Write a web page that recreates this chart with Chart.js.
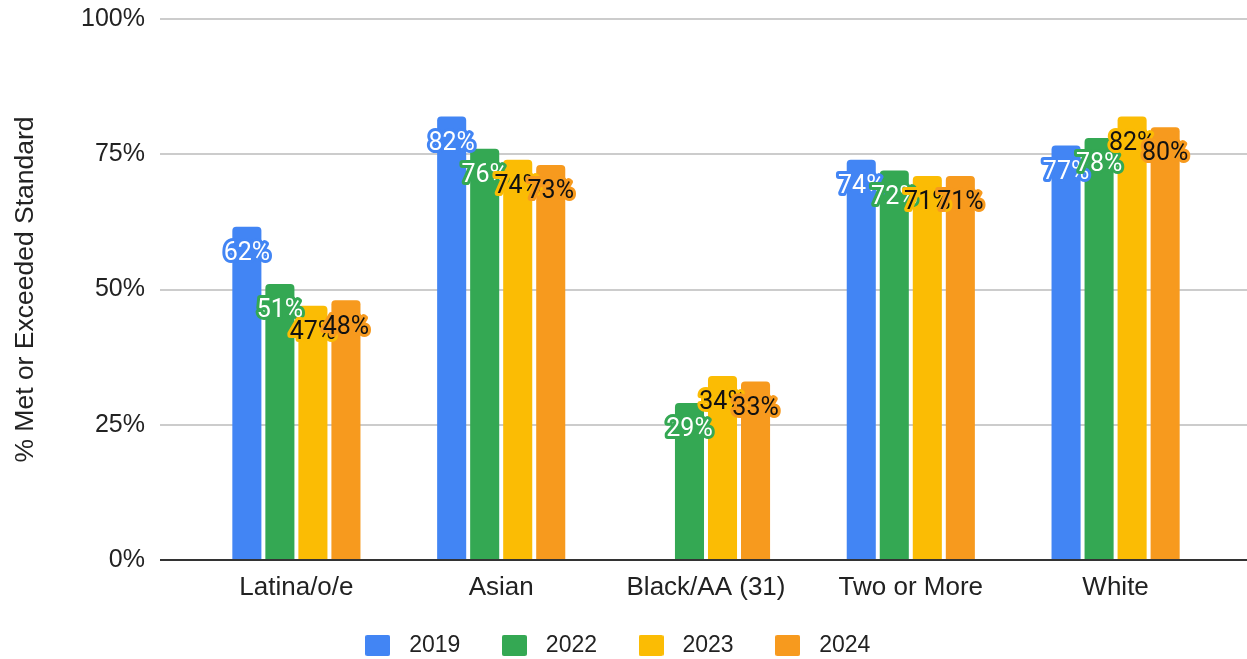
<!DOCTYPE html>
<html>
<head>
<meta charset="utf-8">
<script src="https://cdn.jsdelivr.net/npm/chart.js@4.4.1/dist/chart.umd.min.js"></script>
<style>
  html, body { margin: 0; background: #fff; }
</style>
</head>
<body>
<canvas id="chart" width="1247" height="659"></canvas>
<script>
// data (labels show the rounded value)
const categories = ['Latina/o/e', 'Asian', 'Black/AA (31)', 'Two or More', 'White'];
const years = ['2019', '2022', '2023', '2024'];
const values2019 = [61.6, 82, null, 74, 76.6];
const values2022 = [51, 76, 29, 72, 78];
const values2023 = [47, 74, 34, 71, 82];
const values2024 = [48, 73, 33, 71, 80];
const yTicks = [0, 25, 50, 75, 100];

const colors = ['#4285f4', '#34a853', '#fbbc04', '#f79a1e'];
const labelColors = ['#ffffff', '#ffffff', '#111111', '#111111'];
const axisFont = 'Liberation Sans';

// legend swatch as a small image, so the gap to the text can be wider
function swatch(color) {
  const c = document.createElement('canvas');
  c.width = 25;
  c.height = 21;
  const g = c.getContext('2d');
  g.fillStyle = color;
  g.beginPath();
  g.roundRect(0, 0, 25, 21, 2);
  g.fill();
  return c;
}
const swatches = colors.map(swatch);

// horizontal grid lines span wider than the bar area, like the sheet export
const gridPlugin = {
  id: 'wideGrid',
  beforeDatasetsDraw(chart) {
    const ctx = chart.ctx;
    const y = chart.scales.y;
    ctx.save();
    ctx.lineWidth = 2;
    ctx.strokeStyle = '#cccccc';
    yTicks.filter(v => v > 0).forEach(v => {
      const py = Math.round(y.getPixelForValue(v));
      ctx.beginPath();
      ctx.moveTo(160, py);
      ctx.lineTo(chart.width, py);
      ctx.stroke();
    });
    ctx.restore();
  },
  afterDatasetsDraw(chart) {
    const ctx = chart.ctx;
    const py = Math.round(chart.scales.y.getPixelForValue(0));
    ctx.save();
    ctx.lineWidth = 2;
    ctx.strokeStyle = '#333333';
    ctx.beginPath();
    ctx.moveTo(160, py);
    ctx.lineTo(chart.width, py);
    ctx.stroke();

    // value labels with an outline in the bar colour
    ctx.font = '25px Roboto';
    ctx.textAlign = 'center';
    ctx.textBaseline = 'middle';
    ctx.lineJoin = 'round';
    ctx.lineWidth = 6;
    chart.data.datasets.forEach((ds, i) => {
      chart.getDatasetMeta(i).data.forEach((bar, j) => {
        const v = ds.data[j];
        if (v == null) return;
        const txt = Math.round(v) + '%';
        ctx.strokeStyle = colors[i];
        ctx.strokeText(txt, bar.x, bar.y + 27);
        ctx.fillStyle = labelColors[i];
        ctx.fillText(txt, bar.x, bar.y + 27);
      });
    });
    ctx.restore();
  }
};

const series = [values2019, values2022, values2023, values2024];

new Chart(document.getElementById('chart'), {
  type: 'bar',
  data: {
    labels: categories,
    datasets: years.map((yr, i) => ({
      label: yr,
      data: series[i],
      backgroundColor: colors[i],
      borderRadius: { topLeft: 4, topRight: 4 },
      borderSkipped: 'start',
      categoryPercentage: 0.645,
      barPercentage: 0.88
    }))
  },
  options: {
    responsive: false,
    animation: false,
    layout: { padding: { left: 10, right: 29, top: 19, bottom: -8 } },
    plugins: {
      tooltip: { enabled: false },
      legend: {
        position: 'bottom',
        labels: {
          color: '#222',
          font: { family: axisFont, size: 23 },
          usePointStyle: true,
          pointStyleWidth: 40,
          boxHeight: 20,
          padding: 34,
          generateLabels(chart) {
            return Chart.defaults.plugins.legend.labels.generateLabels(chart).map((item, i) => {
              item.pointStyle = swatches[i];
              return item;
            });
          }
        }
      }
    },
    scales: {
      x: {
        grid: { display: false, drawTicks: false },
        border: { display: false },
        ticks: { color: '#222', font: { family: axisFont, size: 26 }, padding: 12, maxRotation: 0 },
        afterFit(scale) { scale.height = 40; }
      },
      y: {
        min: 0,
        max: 100,
        grid: { display: false, drawTicks: false },
        border: { display: false },
        ticks: {
          stepSize: 25,
          color: '#222',
          padding: 49,
          font: { family: axisFont, size: 25 },
          callback: v => v + '%'
        },
        title: {
          display: true,
          text: '% Met or Exceeded Standard',
          color: '#222',
          font: { family: axisFont, size: 26.5 },
          padding: { top: 0, bottom: 40 }
        },
        afterFit(scale) {
          scale.width = 184;
          // the big tick padding should only push labels sideways
          scale.paddingTop = 0;
          scale.paddingBottom = 0;
        }
      }
    }
  },
  plugins: [gridPlugin]
});
</script>
</body>
</html>
